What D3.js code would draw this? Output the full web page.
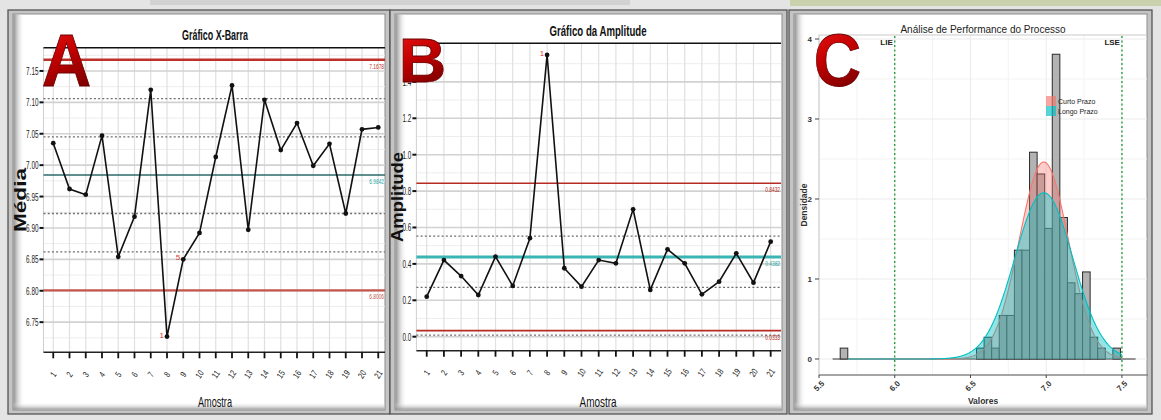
<html>
<head>
<script src="https://d3js.org/d3.v7.min.js"></script>
<style>
  body { margin: 0; background: #e6e6e6; }
  svg { display: block; font-family: "Liberation Sans", Arial, sans-serif; }
</style>
</head>
<body>
<svg id="chart" width="1161" height="420"></svg>
<script>
// ---- data ----
const samples = [1,2,3,4,5,6,7,8,9,10,11,12,13,14,15,16,17,18,19,20,21];
const means = [7.035, 6.962, 6.953, 7.047, 6.854, 6.918, 7.120, 6.727, 6.850, 6.892, 7.013,
               7.127, 6.897, 7.104, 7.024, 7.067, 6.999, 7.034, 6.923, 7.057, 7.060];
const ranges = [0.220, 0.421, 0.333, 0.229, 0.440, 0.279, 0.541, 1.548, 0.376, 0.275, 0.421,
                0.403, 0.700, 0.257, 0.480, 0.403, 0.233, 0.302, 0.458, 0.297, 0.522];

const xbarTicks = [6.75, 6.80, 6.85, 6.90, 6.95, 7.00, 7.05, 7.10, 7.15];
const xbarLimits = [6.8006, 6.9842, 7.1678];          // LCL, CL, UCL
const xbarLimitLabels = ["6.8006", "6.9842", "7.1678"];
const xbarZones = [6.862, 6.923, 7.045, 7.106];
const xbarFlags = [{s: 8, t: "1"}, {s: 9, t: "5"}];

const rangeTicks = [0.0, 0.2, 0.4, 0.6, 0.8, 1.0, 1.2, 1.4];
const rangeLimits = [0.0333, 0.4382, 0.8432];
const rangeLimitLabels = ["0.0333", "0.4382", "0.8432"];
const rangeZones = [0.009, 0.271, 0.553];
const rangeFlags = [{s: 8, t: "1"}];

const binStart = 5.59, binWidth = 0.05;
const binCounts = [0,1,0,0,0,0,0,0,0,0, 0,0,0,0,0,0,0,0,0,1,
                   2,1,4,4,10,10,19,17,12,28, 13,7,6,8,2,1,0,1,0,0];
const processMean = 6.9842;
const curveNames = ["Curto Prazo", "Longo Prazo"];
const curveSigmas = [0.162, 0.192];
const curveColors = ["#F8766D", "#00BFC4"];
const curveSpan = [5.69, 7.50];
const specLimits = [6.0, 7.5];
const specNames = ["LIE", "LSE"];
const valueTicks = [5.5, 6.0, 6.5, 7.0, 7.5];
const densityTicks = [0, 1, 2, 3, 4];

// ---- setup ----
const svg = d3.select("#chart");
const defs = svg.append("defs");

const lg = defs.append("linearGradient").attr("id", "letterGrad")
  .attr("x1", 0).attr("y1", 0).attr("x2", 0.3).attr("y2", 1);
lg.append("stop").attr("offset", "0%").attr("stop-color", "#ee1a1a");
lg.append("stop").attr("offset", "50%").attr("stop-color", "#c40000");
lg.append("stop").attr("offset", "100%").attr("stop-color", "#7c0000");

const sh = defs.append("linearGradient").attr("id", "shadeL")
  .attr("x1", 0).attr("y1", 0).attr("x2", 1).attr("y2", 0);
sh.append("stop").attr("offset", "0%").attr("stop-color", "#7a7a7a").attr("stop-opacity", 0.85);
sh.append("stop").attr("offset", "100%").attr("stop-color", "#ffffff").attr("stop-opacity", 0);

const shB = defs.append("linearGradient").attr("id", "shadeB")
  .attr("x1", 0).attr("y1", 1).attr("x2", 0).attr("y2", 0);
shB.append("stop").attr("offset", "0%").attr("stop-color", "#8a8a8a").attr("stop-opacity", 0.8);
shB.append("stop").attr("offset", "100%").attr("stop-color", "#ffffff").attr("stop-opacity", 0);

// page strip at the top
svg.append("rect").attr("x", 0).attr("y", 0).attr("width", 1161).attr("height", 420).attr("fill", "#e4e4e4");
svg.append("rect").attr("x", 790).attr("y", 0).attr("width", 371).attr("height", 6).attr("fill", "#c9d1ad");
svg.append("rect").attr("x", 150).attr("y", 0).attr("width", 480).attr("height", 5).attr("fill", "#d2d2d2");

// frames
const frames = [
  {x: 8, y: 10, w: 382, h: 404, clip: "clipA"},
  {x: 390, y: 10, w: 397, h: 404, clip: "clipB"},
  {x: 789, y: 10, w: 363, h: 404, clip: "clipC"}
];
frames.forEach(f => {
  svg.append("rect").attr("x", f.x).attr("y", f.y).attr("width", f.w).attr("height", f.h)
    .attr("fill", "#c4c4c4").attr("stroke", "#555").attr("stroke-width", 1.3);
  svg.append("rect").attr("x", f.x + 5).attr("y", f.y + 4).attr("width", f.w - 10).attr("height", f.h - 8)
    .attr("fill", "#fff").attr("stroke", "#8c8c8c").attr("stroke-width", 1);
  svg.append("rect").attr("x", f.x + 5.5).attr("y", f.y + 4.5).attr("width", 11).attr("height", f.h - 9)
    .attr("fill", "url(#shadeL)");
  svg.append("rect").attr("x", f.x + 5.5).attr("y", f.y + f.h - 12).attr("width", f.w - 11).attr("height", 7.5)
    .attr("fill", "url(#shadeB)");
  defs.append("clipPath").attr("id", f.clip).append("rect")
    .attr("x", f.x + 5).attr("y", f.y + 4).attr("width", f.w - 10).attr("height", f.h - 8);
});

function squeeze(sel, f) {
  sel.each(function () {
    const w = this.getComputedTextLength();
    d3.select(this).attr("textLength", w * f).attr("lengthAdjust", "spacingAndGlyphs");
  });
}

// ---- control charts ----
function controlChart(c) {
  const g = svg.append("g").attr("clip-path", `url(#${c.clip})`);
  const x = d3.scaleLinear().domain([0.4, 21.6]).range(c.xr);
  const y = d3.scaleLinear().domain(c.yd).range(c.yr);
  const [left, right] = c.xr;
  const [bottom, top] = c.yr;
  const step = c.ticks[1] - c.ticks[0];
  const minor = c.ticks.map(t => t - step / 2).concat([c.ticks[c.ticks.length - 1] + step / 2])
    .filter(v => v > c.yd[0] && v < c.yd[1]);

  g.selectAll("line.minor").data(minor).join("line").attr("class", "minor")
    .attr("x1", left).attr("x2", right).attr("y1", d => y(d)).attr("y2", d => y(d))
    .attr("stroke", "#ededed").attr("stroke-width", 1);
  g.selectAll("line.vgrid").data(samples).join("line").attr("class", "vgrid")
    .attr("x1", d => x(d)).attr("x2", d => x(d)).attr("y1", top).attr("y2", bottom)
    .attr("stroke", "#e0e0e0").attr("stroke-width", 1.2);
  g.selectAll("line.major").data(c.ticks).join("line").attr("class", "major")
    .attr("x1", left).attr("x2", right).attr("y1", d => y(d)).attr("y2", d => y(d))
    .attr("stroke", "#d2d2d2").attr("stroke-width", 1.6);
  g.append("line").attr("x1", left).attr("x2", left).attr("y1", top).attr("y2", bottom)
    .attr("stroke", "#cfcfcf").attr("stroke-width", 1);

  g.selectAll("line.zone").data(c.zones).join("line").attr("class", "zone")
    .attr("x1", left).attr("x2", right).attr("y1", d => y(d)).attr("y2", d => y(d))
    .attr("stroke", "#6e6e6e").attr("stroke-width", 1.3).attr("stroke-dasharray", "2,2.2");

  const limColors = [c.lclColor, c.clColor, c.uclColor];
  const labColors = [c.lclColor, c.clLabel, c.uclColor];
  g.selectAll("line.lim").data(c.limits).join("line").attr("class", "lim")
    .attr("x1", left).attr("x2", right).attr("y1", d => y(d)).attr("y2", d => y(d))
    .attr("stroke", (d, i) => limColors[i]).attr("stroke-width", (d, i) => c.limWidths[i]);
  const labs = g.selectAll("text.lim").data(c.limits).join("text").attr("class", "lim")
    .attr("x", c.labelX).attr("y", d => y(d) + 9).attr("text-anchor", "end")
    .attr("font-size", 8).attr("fill", (d, i) => labColors[i]).text((d, i) => c.limitLabels[i]);
  squeeze(labs, 0.6);

  // frame top and bottom axis
  g.append("line").attr("x1", left).attr("x2", right).attr("y1", top).attr("y2", top)
    .attr("stroke", "#111").attr("stroke-width", 1.6);
  g.append("line").attr("x1", left).attr("x2", right).attr("y1", bottom).attr("y2", bottom)
    .attr("stroke", "#222").attr("stroke-width", 1.6);

  // series
  const line = d3.line().x((d, i) => x(samples[i])).y(d => y(d));
  g.append("path").datum(c.values).attr("d", line).attr("fill", "none")
    .attr("stroke", "#111").attr("stroke-width", 1.6);
  g.selectAll("circle.pt").data(c.values).join("circle").attr("class", "pt")
    .attr("cx", (d, i) => x(samples[i])).attr("cy", d => y(d)).attr("r", 2.4).attr("fill", "#111");
  g.selectAll("text.flag").data(c.flags).join("text").attr("class", "flag")
    .attr("x", d => x(d.s) - 3).attr("y", d => y(c.values[d.s - 1]) + 1)
    .attr("text-anchor", "end").attr("font-size", 8).attr("fill", "#e0342a").text(d => d.t);

  // y axis
  svg.selectAll(null).data(c.ticks).join("line")
    .attr("x1", left - 4).attr("x2", left).attr("y1", d => y(d)).attr("y2", d => y(d))
    .attr("stroke", "#111").attr("stroke-width", 2);
  const yl = svg.selectAll(null).data(c.ticks).join("text")
    .attr("x", left - 5).attr("y", d => y(d) + 4).attr("text-anchor", "end")
    .attr("font-size", 11).attr("fill", "#222").text(c.tickFormat);
  squeeze(yl, 0.58);

  // x axis
  svg.selectAll(null).data(samples).join("line")
    .attr("x1", d => x(d)).attr("x2", d => x(d)).attr("y1", bottom).attr("y2", bottom + 6)
    .attr("stroke", "#111").attr("stroke-width", 1.8);
  const xl = svg.selectAll(null).data(samples).join("text")
    .attr("transform", d => `translate(${x(d)},${bottom + 22}) rotate(-55)`)
    .attr("text-anchor", "middle").attr("dy", "0.35em")
    .attr("font-size", 9).attr("fill", "#222").text(d => d);
  squeeze(xl, 0.75);

  svg.append("text").attr("x", c.titleX).attr("y", c.titleY).attr("text-anchor", "middle")
    .attr("font-size", 15).attr("font-weight", "bold").attr("fill", "#111")
    .attr("textLength", c.titleW).attr("lengthAdjust", "spacingAndGlyphs").text(c.title);
  svg.append("text").attr("x", c.titleX).attr("y", 407).attr("text-anchor", "middle")
    .attr("font-size", 15).attr("fill", "#111")
    .attr("textLength", c.xTitleW).attr("lengthAdjust", "spacingAndGlyphs").text("Amostra");
  svg.append("text").attr("transform", `translate(${c.yTitlePos[0]},${c.yTitlePos[1]}) rotate(-90)`)
    .attr("text-anchor", "middle").attr("font-size", 17).attr("font-weight", "bold").attr("fill", "#111")
    .attr("textLength", c.yTitleW).attr("lengthAdjust", "spacingAndGlyphs").text(c.yTitle);
}

controlChart({
  clip: "clipA", xr: [43.5, 388], yd: [6.702, 7.187], yr: [352.3, 47.7],
  ticks: xbarTicks, tickFormat: d3.format(".2f"), values: means,
  limits: xbarLimits, limitLabels: xbarLimitLabels, zones: xbarZones, flags: xbarFlags,
  lclColor: "#c4564c", clColor: "#2c6a6a", clLabel: "#2aa8a8", uclColor: "#c0302a",
  limWidths: [2.2, 1.6, 2.6], labelX: 384,
  title: "Gráfico X-Barra", titleX: 215, titleY: 40, titleW: 66, xTitleW: 34,
  yTitle: "Média", yTitlePos: [26, 200], yTitleW: 64
});

controlChart({
  clip: "clipB", xr: [416.4, 781], yd: [-0.077, 1.612], yr: [350.7, 43.3],
  ticks: rangeTicks, tickFormat: d3.format(".1f"), values: ranges,
  limits: rangeLimits, limitLabels: rangeLimitLabels, zones: rangeZones, flags: rangeFlags,
  lclColor: "#b82a24", clColor: "#3ab4b4", clLabel: "#2aa8a8", uclColor: "#b82a24",
  limWidths: [1.6, 3, 1.6], labelX: 780,
  title: "Gráfico da Amplitude", titleX: 598, titleY: 36, titleW: 97, xTitleW: 37,
  yTitle: "Amplitude", yTitlePos: [403, 197], yTitleW: 90
});

// ---- capability histogram ----
const gc = svg.append("g").attr("clip-path", "url(#clipC)");
const xC = d3.scaleLinear().domain([5.5, 7.672]).range([819, 1148]);
const yC = d3.scaleLinear().domain([-0.2, 4.05]).range([375, 35]);

const minorX = valueTicks.map(v => v + 0.25).filter(v => v < 7.672);
const minorY = densityTicks.map(v => v + 0.5).filter(v => v < 4.05);
gc.selectAll("line.mx").data(minorX).join("line").attr("x1", d => xC(d)).attr("x2", d => xC(d))
  .attr("y1", 35).attr("y2", 375).attr("stroke", "#f3f3f3");
gc.selectAll("line.my").data(minorY).join("line").attr("x1", 819).attr("x2", 1148)
  .attr("y1", d => yC(d)).attr("y2", d => yC(d)).attr("stroke", "#f3f3f3");
gc.selectAll("line.gx").data(valueTicks).join("line").attr("x1", d => xC(d)).attr("x2", d => xC(d))
  .attr("y1", 35).attr("y2", 375).attr("stroke", "#ebebeb");
gc.selectAll("line.gy").data(densityTicks).join("line").attr("x1", 819).attr("x2", 1148)
  .attr("y1", d => yC(d)).attr("y2", d => yC(d)).attr("stroke", "#ebebeb");
gc.append("rect").attr("x", 819).attr("y", 35).attr("width", 329).attr("height", 340)
  .attr("fill", "none").attr("stroke", "#c9c9c9");

const nObs = d3.sum(binCounts);
const bins = binCounts.map((c, i) => ({x0: binStart + i * binWidth, x1: binStart + (i + 1) * binWidth,
                                       d: c / (nObs * binWidth)}));
gc.append("line").attr("x1", xC(bins[0].x0)).attr("x2", xC(bins[bins.length - 1].x1))
  .attr("y1", yC(0)).attr("y2", yC(0)).attr("stroke", "#333").attr("stroke-width", 1);
gc.selectAll("rect.bar").data(bins.filter(b => b.d > 0)).join("rect").attr("class", "bar")
  .attr("x", d => xC(d.x0)).attr("width", d => xC(d.x1) - xC(d.x0))
  .attr("y", d => yC(d.d)).attr("height", d => yC(0) - yC(d.d))
  .attr("fill", "#b3b3b3").attr("stroke", "#2a2a2a").attr("stroke-width", 1);

const normal = (v, s) => Math.exp(-0.5 * ((v - processMean) / s) ** 2) / (s * Math.sqrt(2 * Math.PI));
const grid = d3.range(curveSpan[0], curveSpan[1] + 0.0001, 0.005);
const area = d3.area().x(d => xC(d[0])).y0(yC(0)).y1(d => yC(d[1]));
const line = d3.line().x(d => xC(d[0])).y(d => yC(d[1]));
curveSigmas.forEach((s, i) => {
  const pts = grid.map(v => [v, normal(v, s)]);
  gc.append("path").datum(pts).attr("d", area).attr("fill", curveColors[i])
    .attr("fill-opacity", i === 0 ? 0.35 : 0.42);
  gc.append("path").datum(pts).attr("d", line).attr("fill", "none")
    .attr("stroke", curveColors[i]).attr("stroke-width", 1.1);
});

gc.selectAll("line.spec").data(specLimits).join("line").attr("class", "spec")
  .attr("x1", d => xC(d)).attr("x2", d => xC(d)).attr("y1", 36).attr("y2", 372)
  .attr("stroke", "#1f9a2f").attr("stroke-width", 1.3).attr("stroke-dasharray", "2,2.5");
gc.selectAll("text.spec").data(specLimits).join("text").attr("class", "spec")
  .attr("x", d => xC(d) - 2).attr("y", 45).attr("text-anchor", "end")
  .attr("font-size", 8).attr("font-weight", "bold").attr("fill", "#222").text((d, i) => specNames[i]);

// legend
curveNames.forEach((n, i) => {
  gc.append("rect").attr("x", 1046).attr("y", 96 + i * 10).attr("width", 10).attr("height", 10)
    .attr("fill", curveColors[i]).attr("fill-opacity", 0.65);
  gc.append("text").attr("x", 1058).attr("y", 104 + i * 10).attr("font-size", 7).attr("fill", "#222").text(n);
});

// axes
svg.append("line").attr("x1", 819).attr("x2", 1148).attr("y1", 375).attr("y2", 375)
  .attr("stroke", "#666").attr("stroke-width", 1);
svg.selectAll(null).data(valueTicks).join("line").attr("x1", d => xC(d)).attr("x2", d => xC(d))
  .attr("y1", 375).attr("y2", 378).attr("stroke", "#444");
svg.selectAll(null).data(valueTicks).join("text")
  .attr("transform", d => `translate(${xC(d) + 4},${382}) rotate(-45)`)
  .attr("text-anchor", "end").attr("dy", "0.35em").attr("font-size", 8).attr("font-weight", "bold")
  .attr("fill", "#333").text(d3.format(".1f"));
svg.selectAll(null).data(densityTicks).join("line").attr("x1", 815).attr("x2", 819)
  .attr("y1", d => yC(d)).attr("y2", d => yC(d)).attr("stroke", "#444");
svg.selectAll(null).data(densityTicks).join("text").attr("x", 812).attr("y", d => yC(d) + 3)
  .attr("text-anchor", "end").attr("font-size", 8).attr("font-weight", "bold").attr("fill", "#333").text(d => d);
svg.append("text").attr("x", 983).attr("y", 33).attr("text-anchor", "middle").attr("font-size", 10)
  .attr("fill", "#222").text("Análise de Performance do Processo");
svg.append("text").attr("x", 983).attr("y", 404).attr("text-anchor", "middle").attr("font-size", 8.5)
  .attr("font-weight", "bold").attr("fill", "#333").text("Valores");
svg.append("text").attr("transform", "translate(807,205) rotate(-90)").attr("text-anchor", "middle")
  .attr("font-size", 8.5).attr("font-weight", "bold").attr("fill", "#333").text("Densidade");

// ---- panel letters, fitted to their boxes in the picture ----
const letters = [
  {t: "A", x0: 43, x1: 90, top: 33, base: 86},
  {t: "B", x0: 400, x1: 445, top: 37, base: 82},
  {t: "C", x0: 815, x1: 860, top: 33, base: 86}
];
letters.forEach(d => {
  const size = (d.base - d.top) / 0.716;
  const t = svg.append("text").attr("font-size", size).attr("font-weight", "bold")
    .attr("fill", "url(#letterGrad)").attr("stroke", "#6a0000").attr("stroke-width", 0.8)
    .text(d.t);
  const adv = t.node().getComputedTextLength();
  const sx = (d.x1 - d.x0) / (adv * 0.95);
  t.attr("transform", `translate(${d.x0 - adv * 0.025 * sx},${d.base}) scale(${sx},1)`);
});
</script>
</body>
</html>
